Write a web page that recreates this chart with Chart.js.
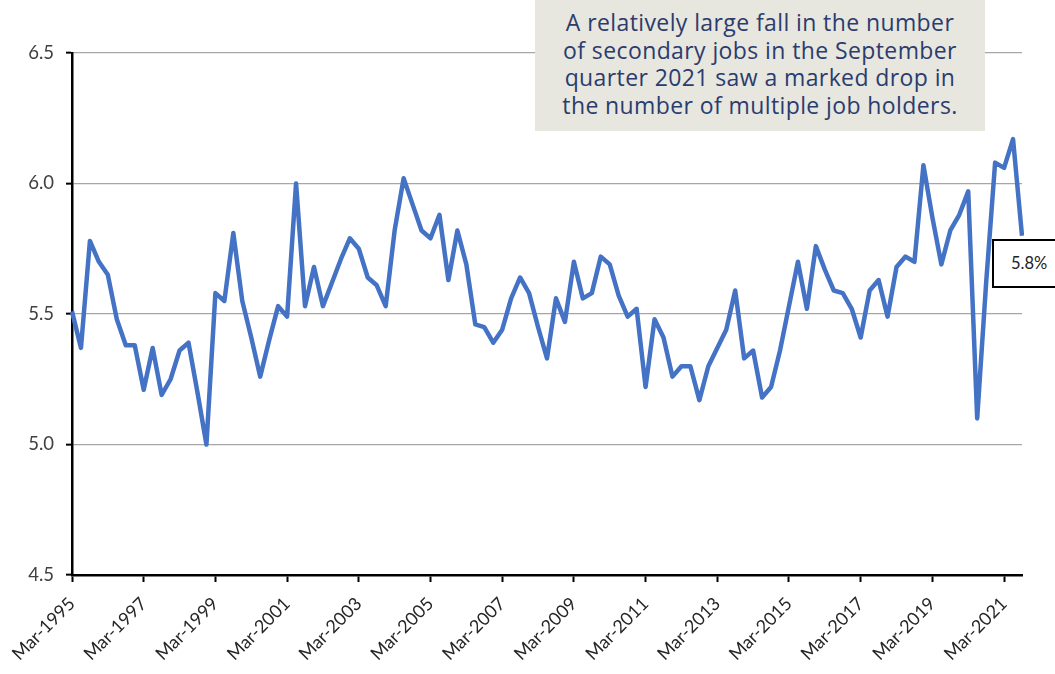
<!DOCTYPE html>
<html>
<head>
    <title>Multiple job holders</title>
    <script src="https://cdn.jsdelivr.net/npm/chart.js"></script>
    <style>
        body {
            margin: 0;
            background-color: #ffffff;
        }
        #wrap {
            position: relative;
            width: 1055px;
            height: 674px;
            overflow: hidden;
        }
        #note {
            position: absolute;
            left: 535px;
            top: 0;
            width: 450px;
            height: 131px;
            padding-top: 9px;
            box-sizing: border-box;
            background-color: #e7e6df;
            color: #2b3c6e;
            font-family: "Open Sans", sans-serif;
            font-size: 23px;
            letter-spacing: 0.4px;
            line-height: 27.7px;
            text-align: center;
        }
        #lastLabel {
            position: absolute;
            left: 992px;
            top: 239px;
            width: 90px;
            height: 49px;
            box-sizing: border-box;
            border: 2px solid #000;
            background-color: #fff;
            padding-left: 17px;
            font-family: Lato, sans-serif;
            font-size: 16.5px;
            line-height: 45px;
            color: #222;
        }
    </style>
</head>
<body>
    <div id="wrap">
        <canvas id="chart" width="1055" height="674"></canvas>
        <div id="note">A relatively large fall in the number<br>of secondary jobs in the September<br>quarter 2021 saw a marked drop in<br>the number of multiple job holders.</div>
        <div id="lastLabel"></div>
    </div>

    <script>
        // quarters Mar-1995 .. Sep-2021
        var months = ['Mar', 'Jun', 'Sep', 'Dec'];
        var firstYear = 1995;
        var lastYear = 2021;
        var lastQuarter = 2; // Sep

        // multiple job holders, % of employed
        var rates = [
            5.51, 5.37, 5.78, 5.70, 5.65, 5.48, 5.38, 5.38, 5.21, 5.37,
            5.19, 5.25, 5.36, 5.39, 5.20, 5.00, 5.58, 5.55, 5.81, 5.55,
            5.41, 5.26, 5.40, 5.53, 5.49, 6.00, 5.53, 5.68, 5.53, 5.62,
            5.71, 5.79, 5.75, 5.64, 5.61, 5.53, 5.82, 6.02, 5.92, 5.82,
            5.79, 5.88, 5.63, 5.82, 5.69, 5.46, 5.45, 5.39, 5.44, 5.56,
            5.64, 5.58, 5.45, 5.33, 5.56, 5.47, 5.70, 5.56, 5.58, 5.72,
            5.69, 5.57, 5.49, 5.52, 5.22, 5.48, 5.41, 5.26, 5.30, 5.30,
            5.17, 5.30, 5.37, 5.44, 5.59, 5.33, 5.36, 5.18, 5.22, 5.36,
            5.53, 5.70, 5.52, 5.76, 5.67, 5.59, 5.58, 5.52, 5.41, 5.59,
            5.63, 5.49, 5.68, 5.72, 5.70, 6.07, 5.87, 5.69, 5.82, 5.88,
            5.97, 5.10, 5.62, 6.08, 6.06, 6.17, 5.80
        ];

        var yTicks = [4.5, 5.0, 5.5, 6.0, 6.5];
        var labelEvery = 8; // one label every two years

        var quarters = [];
        for (var y = firstYear; y <= lastYear; y++) {
            for (var q = 0; q < 4; q++) {
                if (y === lastYear && q > lastQuarter) break;
                quarters.push(months[q] + '-' + y);
            }
        }

        var last = rates[rates.length - 1];
        document.getElementById('lastLabel').textContent = last.toFixed(1) + '%';

        new Chart(document.getElementById('chart'), {
            type: 'line',
            data: {
                labels: quarters,
                datasets: [{
                    data: rates,
                    borderColor: '#4472c4',
                    borderWidth: 4.5,
                    pointRadius: 0,
                    tension: 0,
                    borderJoinStyle: 'round'
                }]
            },
            options: {
                responsive: false,
                animation: false,
                layout: { padding: { top: 53, right: 33, left: 0, bottom: 0 } },
                plugins: {
                    legend: { display: false },
                    tooltip: { enabled: false }
                },
                scales: {
                    x: {
                        offset: false,
                        grid: { drawOnChartArea: false, tickLength: 7, tickColor: '#000', tickWidth: 2 },
                        border: { color: '#000', width: 2.5 },
                        ticks: {
                            autoSkip: false,
                            minRotation: 45,
                            maxRotation: 45,
                            padding: 11,
                            color: '#262626',
                            font: { family: 'Lato', size: 18 },
                            callback: function (v, i) {
                                return i % labelEvery === 0 ? quarters[i] : null;
                            }
                        },
                        afterFit: function (scale) { scale.height = 99; }
                    },
                    y: {
                        min: yTicks[0],
                        max: yTicks[yTicks.length - 1],
                        afterBuildTicks: function (scale) {
                            scale.ticks = yTicks.map(function (v) { return { value: v }; });
                        },
                        grid: { color: '#a6a6a6', lineWidth: 1.3, tickColor: '#000', tickLength: 6, tickWidth: 2 },
                        border: { color: '#000', width: 2.5 },
                        ticks: {
                            padding: 12,
                            color: '#404040',
                            font: { family: 'Lato', size: 18.5 },
                            callback: function (v) { return v.toFixed(1); }
                        },
                        afterFit: function (scale) { scale.width = 72; }
                    }
                }
            }
        });
    </script>
</body>
</html>
